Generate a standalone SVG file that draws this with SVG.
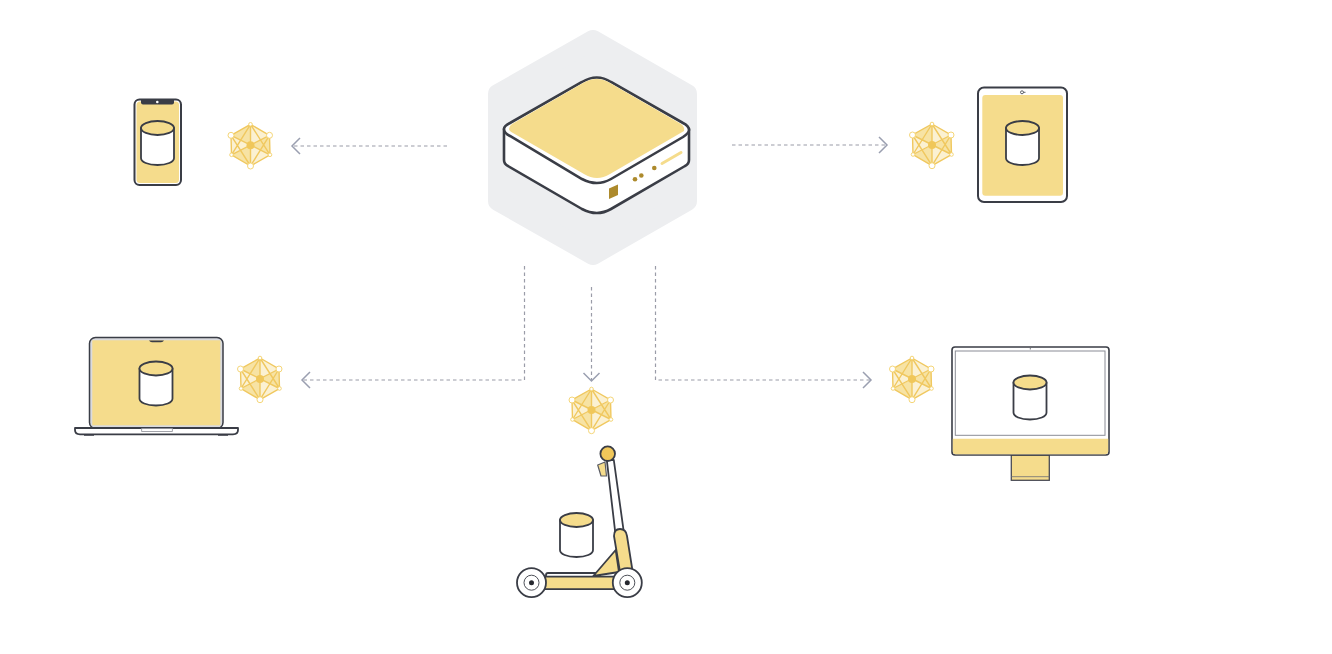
<svg xmlns="http://www.w3.org/2000/svg" width="1332" height="654" viewBox="0 0 1332 654">
<style>
.o{stroke:#3a3d46;stroke-width:1.8;stroke-linejoin:round;stroke-linecap:round}
.y{fill:#f5dc8c}
.w{fill:#fff}
.c{fill:none;stroke:#9a9ca8;stroke-width:1.2;stroke-dasharray:3.500 3}
.h{fill:none;stroke:#9a9fb0;stroke-width:1.500}
.b{fill:#ad8a2c}
.m{fill:none;stroke:#f0c85f;stroke-width:1.400}
</style>
<defs>
<g id="cyl">
<path class="o w" d="M0 7V37C0 41 7 44 16.500 44S33 41 33 37V7Z"/>
<ellipse class="o y" cx="16.500" cy="7" rx="16.500" ry="7"/>
</g>
<g id="mesh">
<path d="M0 0L0 -21L-19.500 -10ZM0 0L19 -10L19.500 9.500ZM0 0L0 20.700L-19 9.500Z" fill="#f7e3a4"/>
<path d="M0 0L0 -21L19 -10ZM0 0L19.500 9.500L0 20.700ZM0 0L-19 9.500L-19.500 -10Z" fill="#fbf1d2"/>
<path class="m" d="M0 -21L19 -10L19.500 9.500L0 20.700L-19 9.500L-19.500 -10ZM0 -21V20.700M-19.500 -10L19.500 9.500M19 -10L-19 9.500M0 -21L-19 9.500M0 -21L19.500 9.500M0 20.700L-19.500 -10M0 20.700L19 -10"/>
<circle r="4" fill="#f0c75a"/>
<g fill="#fff" stroke="#f5d678" stroke-width="1">
<circle cx="-19.500" cy="-10" r="3"/><circle cx="19" cy="-10" r="3"/><circle cy="20.700" r="3"/>
<circle cy="-21" r="1.800"/><circle cx="-19" cy="9.500" r="1.800"/><circle cx="19.500" cy="9.500" r="1.800"/>
</g>
</g>
<g id="wheel">
<circle class="o w" r="14.500"/>
<circle r="7.500" fill="#fff" stroke="#3a3d46" stroke-width="0.900"/>
<circle r="2.500" fill="#26282f"/>
</g>
</defs>

<g id="connectors">
<path class="c" d="M447 146H293"/><path class="h" d="M300 138L292 146L300 154"/>
<path class="c" d="M732 145H887"/><path class="h" d="M879 137L887 145L879 153"/>
<path class="c" d="M524.500 266V380H302"/><path class="h" d="M310 372L302 380L310 388"/>
<path class="c" d="M655.500 266V380H871"/><path class="h" d="M863 372L871 380L863 388"/>
<path class="c" d="M591.500 287V380"/><path class="h" d="M583.500 373L591.500 381L599.500 373"/>
</g>

<g id="hub">
<polygon points="593,40 687,94 687,201 593,255 498,201 498,94" fill="#edeef0" stroke="#edeef0" stroke-width="20" stroke-linejoin="round"/>
<path class="w" d="M504 129V160Q504 164 508 166L582 209Q597 217 611 209L685 166Q689 164 689 160V129Z" stroke="#3a3d46" stroke-width="2.600" stroke-linejoin="round"/>
<path class="w" d="M504 129Q504 126 510 123L582 82Q597 73 611 82L683 123Q689 126 689 130Q689 133 683 137L611 179Q597 187 582 179L510 136Q504 133 504 129Z" stroke="#3a3d46" stroke-width="2.600"/>
<path class="y" d="M509 129Q509 126 512 124L583 83Q597 75 610 83L681 124Q685 127 684 131L610 174Q597 182 584 174L513 133Q509 131 509 129Z"/>
<path class="b" d="M609 188.500L618 184.500V195L609 199Z"/>
<circle class="b" cx="635" cy="179.300" r="2.300"/><circle class="b" cx="641.300" cy="175.500" r="2.300"/><circle class="b" cx="654.300" cy="168" r="2.300"/>
<path d="M662 163.500L681 152.500" stroke="#f5dc8c" stroke-width="3" stroke-linecap="round"/>
</g>

<g id="phone">
<rect class="w" x="134.500" y="99.500" width="46.500" height="85.500" rx="5" stroke="#3a3d46" stroke-width="2"/>
<rect class="y" x="136.500" y="101.500" width="42.500" height="81.500" rx="3.500"/>
<path d="M141 99H174V102.500Q174 104.500 172 104.500H143Q141 104.500 141 102.500Z" fill="#3a3d46"/>
<circle cx="157.300" cy="102" r="1.300" fill="#fff"/>
<use href="#cyl" x="141" y="121"/>
<use href="#mesh" x="250.500" y="145.300"/>
</g>

<g id="tablet">
<rect class="w" x="978" y="87.500" width="89" height="114.500" rx="6" stroke="#3a3d46" stroke-width="2"/>
<rect class="y" x="982.300" y="95" width="80.700" height="100.700" rx="3"/>
<circle cx="1022" cy="92.300" r="1.500" fill="none" stroke="#3a3d46" stroke-width="0.800"/><path d="M1023.500 92.300H1025.500" stroke="#3a3d46" stroke-width="0.800"/>
<use href="#cyl" x="1006" y="121"/>
<use href="#mesh" x="932" y="145"/>
</g>

<g id="laptop">
<rect x="89.500" y="337.500" width="133.500" height="91" rx="6" fill="#d9dade" stroke="#3a3d46" stroke-width="1.500"/>
<rect class="y" x="92.300" y="340.300" width="128" height="85"/>
<path d="M149 340.500H164Q163 342.300 161 342.300H152Q150 342.300 149 340.500Z" fill="#3a3d46"/>
<path class="o w" d="M75 428H238V430Q238 434.300 233 434.300H80Q75 434.300 75 430Z" stroke-width="1.600"/>
<rect x="141.700" y="428.500" width="30.600" height="3" fill="#fff" stroke="#8a8c95" stroke-width="0.800"/>
<path d="M84 435H94M218 435H228" stroke="#3a3d46" stroke-width="1.600"/>
<use href="#cyl" x="139.500" y="361.500"/>
<use href="#mesh" x="260" y="379"/>
</g>

<g id="desktop">
<rect x="1011.300" y="455" width="38" height="25.300" class="y" stroke="#4a4c55" stroke-width="1.300"/>
<path d="M1011.300 476.700H1049.300" stroke="#6a6c75" stroke-width="0.800"/>
<rect class="w" x="952" y="347" width="157" height="108" rx="3" stroke="#3a3d46" stroke-width="1.600"/>
<path class="y" d="M952.800 438.700H1108.200V451Q1108.200 454.200 1105 454.200H956Q952.800 454.200 952.800 451Z"/>
<rect x="955.300" y="351" width="149.700" height="84.300" fill="#fff" stroke="#8a8c95" stroke-width="1"/>
<path d="M1030.300 348V349.500" stroke="#3a3d46" stroke-width="0.700"/>
<use href="#cyl" x="1013.500" y="375.500"/>
<use href="#mesh" x="912" y="379"/>
</g>

<g id="scooter">
<use href="#mesh" x="591.500" y="410"/>
<path class="o w" d="M606.800 460L615.200 532H623.800L613.800 460Z" stroke-width="1.600"/>
<path class="y" d="M597.700 465L605 462L606.500 476H601Z" stroke="#5a5c65" stroke-width="1.200" stroke-linejoin="round"/>
<circle class="o" cx="607.700" cy="453.700" r="7.300" fill="#f0c75a"/>
<path class="o w" d="M546 577V575Q546 573 548 573H600V577Z" stroke-width="1.500"/>
<path class="o y" d="M593.300 576L615.700 550L619 572Z" stroke-width="1.400"/>
<rect class="o y" x="540" y="576.700" width="80" height="12.500" stroke-width="1.600"/>
<path class="o y" d="M614 536Q614 529 620 529Q626 529 627 536L632.700 572H620Z" stroke-width="1.600"/>
<use href="#wheel" x="531.500" y="582.700"/>
<use href="#wheel" x="627.300" y="582.700"/>
<use href="#cyl" x="560" y="513"/>
</g>
</svg>
